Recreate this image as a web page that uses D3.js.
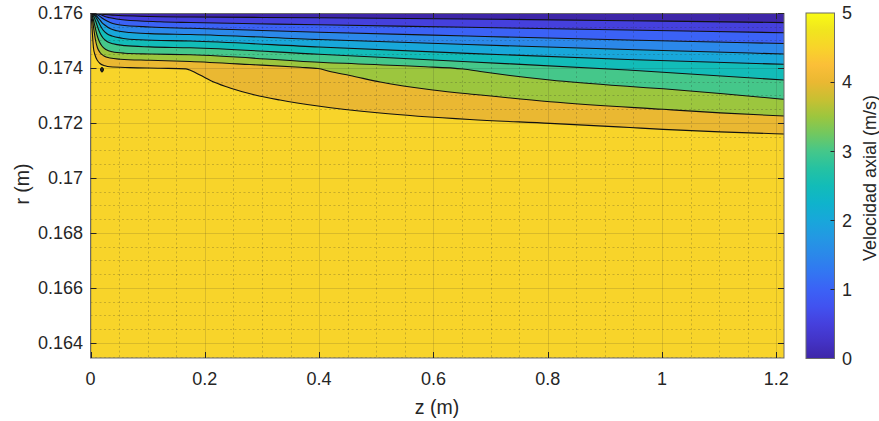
<!DOCTYPE html>
<html>
<head>
<meta charset="utf-8">
<script src="https://cdn.jsdelivr.net/npm/d3@7"></script>
<style>
  html, body { margin: 0; padding: 0; background: #fff; }
  svg { display: block; font-family: "Liberation Sans", Arial, Helvetica, sans-serif; }
</style>
</head>
<body>
<svg id="chart" width="879" height="421"></svg>
<script>
// Contour levels of the axial velocity (m/s)
const levels = [0.5, 1, 1.5, 2, 2.5, 3, 3.5, 4, 4.5];

// Iso-velocity lines, each as [z (m), r (m)] pairs along the pipe
const line05 = [[0,0.176],[0.008,0.175993],[0.017,0.175971],[0.025,0.175945],[0.043,0.175916],[0.087,0.175884],[0.175,0.175854],[0.4,0.175829],[0.66,0.175782],[0.94,0.17572],[1.2135,0.175651]];
const line10 = [[0,0.176],[0.008,0.175989],[0.017,0.175945],[0.025,0.175873],[0.034,0.175825],[0.06,0.175745],[0.122,0.17568],[0.175,0.175654],[0.4,0.175571],[0.66,0.17548],[0.94,0.175381],[1.2135,0.175283]];
const line15 = [[0,0.176],[0.006,0.175982],[0.013,0.175927],[0.02,0.175818],[0.029,0.175709],[0.039,0.175618],[0.052,0.175563],[0.104,0.175491],[0.175,0.175443],[0.4,0.175301],[0.66,0.175163],[0.94,0.175017],[1.2135,0.17489]];
const line20 = [[0,0.176],[0.004,0.175982],[0.0096,0.175909],[0.015,0.175782],[0.02,0.175654],[0.025,0.175563],[0.034,0.175436],[0.046,0.175352],[0.069,0.17529],[0.104,0.17525],[0.175,0.175218],[0.4,0.175036],[0.66,0.174854],[0.94,0.174672],[1.2135,0.174508]];
const line25 = [[0,0.176],[0.0035,0.175971],[0.0079,0.175891],[0.0122,0.175745],[0.0166,0.175563],[0.0219,0.175381],[0.0289,0.175243],[0.0376,0.175163],[0.0551,0.175083],[0.0866,0.175025],[0.175,0.174981],[0.4,0.174763],[0.66,0.174533],[0.94,0.174308],[1.2135,0.174133]];
const line30 = [[0,0.176],[0.0026,0.175964],[0.0061,0.175854],[0.0096,0.175672],[0.0131,0.175454],[0.0166,0.175272],[0.0219,0.17509],[0.0289,0.174963],[0.0394,0.174879],[0.0604,0.174814],[0.104,0.174766],[0.175,0.174734],[0.4,0.174497],[0.66,0.174228],[0.94,0.173926],[1.2135,0.173562]];
const line35 = [[0,0.176],[0.0026,0.175927],[0.0052,0.175745],[0.008,0.175491],[0.0114,0.175199],[0.015,0.174981],[0.02,0.174799],[0.027,0.174672],[0.038,0.174588],[0.06,0.174537],[0.104,0.174508],[0.175,0.174479],[0.4,0.174206],[0.576,0.174053],[0.652,0.173962],[0.682,0.173871],[0.734,0.173726],[0.804,0.173562],[0.944,0.173325],[1.002,0.173242],[1.102,0.173071],[1.2135,0.17286]];
const line40 = [[0,0.176],[0.0017,0.175927],[0.0035,0.175745],[0.006,0.175381],[0.0087,0.175017],[0.012,0.174745],[0.0166,0.174563],[0.0236,0.174435],[0.034,0.174362],[0.052,0.174319],[0.104,0.174279],[0.174,0.174235],[0.279,0.174126],[0.367,0.174024],[0.398,0.17398],[0.419,0.173871],[0.454,0.173726],[0.507,0.173489],[0.599,0.173198],[0.682,0.173016],[0.804,0.172772],[1.002,0.172496],[1.102,0.172368],[1.2135,0.172252]];
const line45 = [[0,0.176],[0.0009,0.175927],[0.0021,0.175672],[0.0035,0.175199],[0.0052,0.174726],[0.0079,0.174472],[0.0122,0.174272],[0.0166,0.174162],[0.0254,0.174079],[0.0341,0.174042],[0.0691,0.174013],[0.1216,0.173991],[0.1671,0.173969],[0.1776,0.173889],[0.1916,0.173744],[0.2178,0.173471],[0.2441,0.173271],[0.2878,0.173016],[0.3316,0.172834],[0.3981,0.172616],[0.5066,0.172361],[0.664,0.172125],[0.804,0.171986],[0.944,0.171833],[1.0017,0.171768],[1.1015,0.171677],[1.2135,0.171597]];
const contourLines = [line05, line10, line15, line20, line25, line30, line35, line40, line45];

// Small closed 4.5 m/s contour just below the inlet layer
const island45 = [[0.0201,0.174017],[0.0227,0.173944],[0.0201,0.173853],[0.0175,0.173944]];

// Axis ticks and limits
const zTicks = [0, 0.2, 0.4, 0.6, 0.8, 1, 1.2];
const rTicks = [0.164, 0.166, 0.168, 0.17, 0.172, 0.174, 0.176];
const cTicks = [0, 1, 2, 3, 4, 5];
const zDomain = [0, 1.2135];
const rDomain = [0.16345, 0.176];
const cDomain = [0, 5];

// Parula-like colormap anchors, evenly spaced from 0 to 1
const parula = ["#3e26a8","#4333c6","#4540dd","#4152f0","#3b62f6","#3276f2","#2b88ea","#2398e3",
                "#18a7da","#0fb3cc","#12bcb8","#25c2a2","#45c78a","#71c860","#9cc63e","#c8c032",
                "#eab832","#fbbf38","#f8d42a","#f1e51e","#f9fb15"];

const plot = { left: 90.5, right: 784, top: 13, bottom: 358 };
const cbar = { left: 806, right: 834.5, top: 13, bottom: 358.5 };
const axisColor = "#262626";

const svg = d3.select("#chart");
const x = d3.scaleLinear().domain(zDomain).range([plot.left, plot.right]);
const y = d3.scaleLinear().domain(rDomain).range([plot.bottom, plot.top]);
const cmap = d3.scaleLinear()
  .domain(parula.map((_, i) => i / (parula.length - 1)))
  .range(parula)
  .interpolate(d3.interpolateRgb);
const colorOf = v => cmap((v - cDomain[0]) / (cDomain[1] - cDomain[0]));

const defs = svg.append("defs");
defs.append("clipPath").attr("id", "plotClip")
  .append("rect")
  .attr("x", plot.left).attr("y", plot.top)
  .attr("width", plot.right - plot.left).attr("height", plot.bottom - plot.top);

const gPlot = svg.append("g").attr("clip-path", "url(#plotClip)");

// Lowest band fills the whole domain, each higher band is painted below its line
gPlot.append("rect")
  .attr("x", plot.left).attr("y", plot.top)
  .attr("width", plot.right - plot.left).attr("height", plot.bottom - plot.top)
  .attr("fill", colorOf(cDomain[0]));

const area = d3.area()
  .x(d => x(d[0]))
  .y0(y(rDomain[0]))
  .y1(d => y(d[1]))
  .curve(d3.curveMonotoneX);
const line = d3.line()
  .x(d => x(d[0]))
  .y(d => y(d[1]))
  .curve(d3.curveMonotoneX);

contourLines.forEach((pts, i) => {
  gPlot.append("path").attr("d", area(pts)).attr("fill", colorOf(levels[i]));
});

// Grid: dotted minor lines, then solid major lines
const zMinor = d3.range(0, 1.2135, 0.05).filter(v => zTicks.every(t => Math.abs(t - v) > 1e-6));
const rMinor = d3.range(0.1635, 0.17601, 0.0005).filter(v => rTicks.every(t => Math.abs(t - v) > 1e-7));
const gGrid = gPlot.append("g");
gGrid.selectAll(".zmin").data(zMinor).join("line")
  .attr("x1", d => Math.round(x(d)) + 0.5).attr("x2", d => Math.round(x(d)) + 0.5)
  .attr("y1", plot.top).attr("y2", plot.bottom)
  .attr("stroke", axisColor).attr("stroke-opacity", 0.22).attr("stroke-dasharray", "2,2.5");
gGrid.selectAll(".rmin").data(rMinor).join("line")
  .attr("y1", d => Math.round(y(d)) + 0.5).attr("y2", d => Math.round(y(d)) + 0.5)
  .attr("x1", plot.left).attr("x2", plot.right)
  .attr("stroke", axisColor).attr("stroke-opacity", 0.22).attr("stroke-dasharray", "2,2.5");
gGrid.selectAll(".zmaj").data(zTicks).join("line")
  .attr("x1", d => Math.round(x(d)) + 0.5).attr("x2", d => Math.round(x(d)) + 0.5)
  .attr("y1", plot.top).attr("y2", plot.bottom)
  .attr("stroke", axisColor).attr("stroke-opacity", 0.15);
gGrid.selectAll(".rmaj").data(rTicks).join("line")
  .attr("y1", d => Math.round(y(d)) + 0.5).attr("y2", d => Math.round(y(d)) + 0.5)
  .attr("x1", plot.left).attr("x2", plot.right)
  .attr("stroke", axisColor).attr("stroke-opacity", 0.15);

// Contour lines
contourLines.forEach(pts => {
  gPlot.append("path").attr("d", line(pts))
    .attr("fill", "none").attr("stroke", "#111").attr("stroke-width", 1.1);
});
gPlot.append("path")
  .attr("d", d3.line().x(d => x(d[0])).y(d => y(d[1])).curve(d3.curveCardinalClosed)(island45))
  .attr("fill", "#2a2a2a").attr("stroke", "#111").attr("stroke-width", 1.1);

// Axes (ticks inside, mirrored on all sides)
const tickLen = 6;
const gAx = svg.append("g").attr("fill", "none").attr("stroke", axisColor).attr("stroke-width", 1);
gAx.append("rect")
  .attr("x", plot.left).attr("y", plot.top + 0.5)
  .attr("width", plot.right - plot.left).attr("height", plot.bottom - plot.top - 0.5)
  .attr("stroke", "#6b6b6b");
zTicks.forEach(t => {
  const px = Math.round(x(t)) + 0.5;
  gAx.append("line").attr("x1", px).attr("x2", px).attr("y1", plot.bottom).attr("y2", plot.bottom - tickLen);
  gAx.append("line").attr("x1", px).attr("x2", px).attr("y1", plot.top).attr("y2", plot.top + tickLen);
});
rTicks.forEach(t => {
  const py = Math.round(y(t)) + 0.5;
  gAx.append("line").attr("y1", py).attr("y2", py).attr("x1", plot.left).attr("x2", plot.left + tickLen);
  gAx.append("line").attr("y1", py).attr("y2", py).attr("x1", plot.right).attr("x2", plot.right - tickLen);
});

const fmtR = d3.format(".3~f");
svg.append("g").selectAll("text").data(rTicks).join("text")
  .attr("x", 83).attr("y", d => y(d)).attr("dy", "0.35em")
  .attr("text-anchor", "end").attr("font-size", 18).attr("fill", axisColor)
  .text(d => fmtR(d));
svg.append("g").selectAll("text").data(zTicks).join("text")
  .attr("x", d => x(d)).attr("y", 385)
  .attr("text-anchor", "middle").attr("font-size", 18).attr("fill", axisColor)
  .text(d => d3.format("~g")(d));

svg.append("text").attr("x", 437).attr("y", 414)
  .attr("text-anchor", "middle").attr("font-size", 19.5).attr("fill", axisColor)
  .text("z (m)");
svg.append("text").attr("transform", "translate(29,184) rotate(-90)")
  .attr("text-anchor", "middle").attr("font-size", 19.5).attr("fill", axisColor)
  .text("r (m)");

// Colorbar
const cy = d3.scaleLinear().domain(cDomain).range([cbar.bottom, cbar.top]);
const grad = defs.append("linearGradient").attr("id", "cbGrad")
  .attr("x1", 0).attr("y1", 1).attr("x2", 0).attr("y2", 0);
parula.forEach((c, i) => {
  grad.append("stop").attr("offset", i / (parula.length - 1)).attr("stop-color", c);
});
svg.append("rect")
  .attr("x", cbar.left).attr("y", cbar.top)
  .attr("width", cbar.right - cbar.left).attr("height", cbar.bottom - cbar.top)
  .attr("fill", "url(#cbGrad)").attr("stroke", "#6b6b6b").attr("stroke-width", 1);
const gC = svg.append("g");
cTicks.forEach(t => {
  const py = Math.round(cy(t)) + 0.5;
  if (t > cDomain[0] && t < cDomain[1]) {
    gC.append("line").attr("x1", cbar.right - 4).attr("x2", cbar.right)
      .attr("y1", py).attr("y2", py).attr("stroke", axisColor);
  }
  gC.append("text").attr("x", 842).attr("y", cy(t)).attr("dy", "0.35em")
    .attr("font-size", 18).attr("fill", axisColor).text(t);
});
svg.append("text").attr("transform", "translate(876,178) rotate(-90)")
  .attr("text-anchor", "middle").attr("font-size", 18).attr("fill", axisColor)
  .text("Velocidad axial (m/s)");
</script>
</body>
</html>
